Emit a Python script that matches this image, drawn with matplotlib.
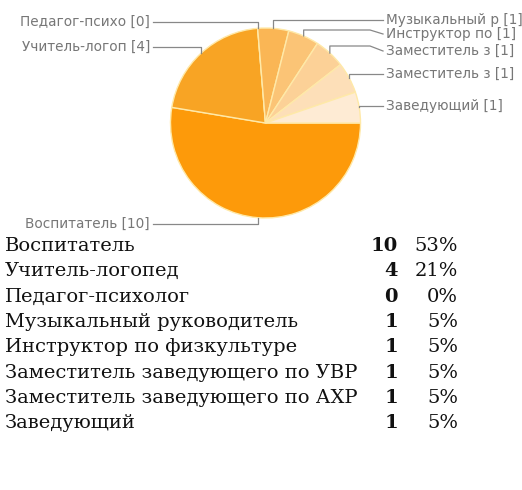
import numpy as np
import matplotlib
matplotlib.use("Agg")
import matplotlib.pyplot as plt

# data
names = ["Воспитатель", "Учитель-логопед", "Педагог-психолог",
         "Музыкальный руководитель", "Инструктор по физкультуре",
         "Заместитель заведующего по УВР", "Заместитель заведующего по АХР",
         "Заведующий"]
short_names = ["Воспитатель", "Учитель-логоп", "Педагог-психо",
               "Музыкальный р", "Инструктор по", "Заместитель з",
               "Заместитель з", "Заведующий"]
counts = [10, 4, 0, 1, 1, 1, 1, 1]
percents = ["53%", "21%", "0%", "5%", "5%", "5%", "5%", "5%"]
colors = ["#fd9a0a", "#f8a424", "#f9ae3e", "#fab655", "#fbc476",
          "#fcd197", "#fddfb8", "#feebd4"]

fig = plt.figure(figsize=(5.22, 4.9), dpi=100)
ax = fig.add_axes([0, 0, 1, 1])

cx, cy, r = 265.5, 123, 95
ax.pie(counts, colors=colors, center=(cx, cy), radius=r, startangle=0,
       counterclock=True, wedgeprops=dict(edgecolor="#ffe9a8", linewidth=1.0))
ax.set_xlim(0, 522)
ax.set_ylim(490, 0)
ax.set_aspect("auto")
ax.axis("off")

total = sum(counts)
cum = np.cumsum([0] + counts[:-1])
mids = 2 * np.pi * (cum + np.array(counts) / 2) / total
anchors = [(cx + r * np.cos(t), cy + r * np.sin(t)) for t in mids]

lab_col = "#777777"
line_col = "#888888"
lfont = dict(family="DejaVu Sans", fontsize=9.8, color=lab_col)

# left side labels: index, label y
left = [(2, 22), (1, 47), (0, 224)]
for i, ly in left:
    axx, ayy = anchors[i]
    ax.text(150, ly, f"{short_names[i]} [{counts[i]}]", ha="right", va="center", **lfont)
    ax.plot([153, axx, axx], [ly, ly, ayy], color=line_col, lw=0.9)

# right side labels: index, line y, text y
right = [(3, 20, 20), (4, 30, 34), (5, 46, 51), (6, 74, 74), (7, 106, 106)]
for i, lny, ty in right:
    axx, ayy = anchors[i]
    xk = 370 if ty != lny else 383
    ax.plot([axx, axx, xk, 383], [ayy, lny, lny, ty], color=line_col, lw=0.9)
    ax.text(386, ty, f"{short_names[i]} [{counts[i]}]", ha="left", va="center", **lfont)

# table
tfont = dict(family="DejaVu Serif", fontsize=14, color="#111111")
y0, dy = 246, 25.3
for k, (n, c, p) in enumerate(zip(names, counts, percents)):
    y = y0 + k * dy
    ax.text(5, y, n, ha="left", va="center", **tfont)
    ax.text(398, y, str(c), ha="right", va="center", fontweight="bold", **tfont)
    ax.text(458, y, p, ha="right", va="center", **tfont)

fig.savefig("out.png", dpi=100)
